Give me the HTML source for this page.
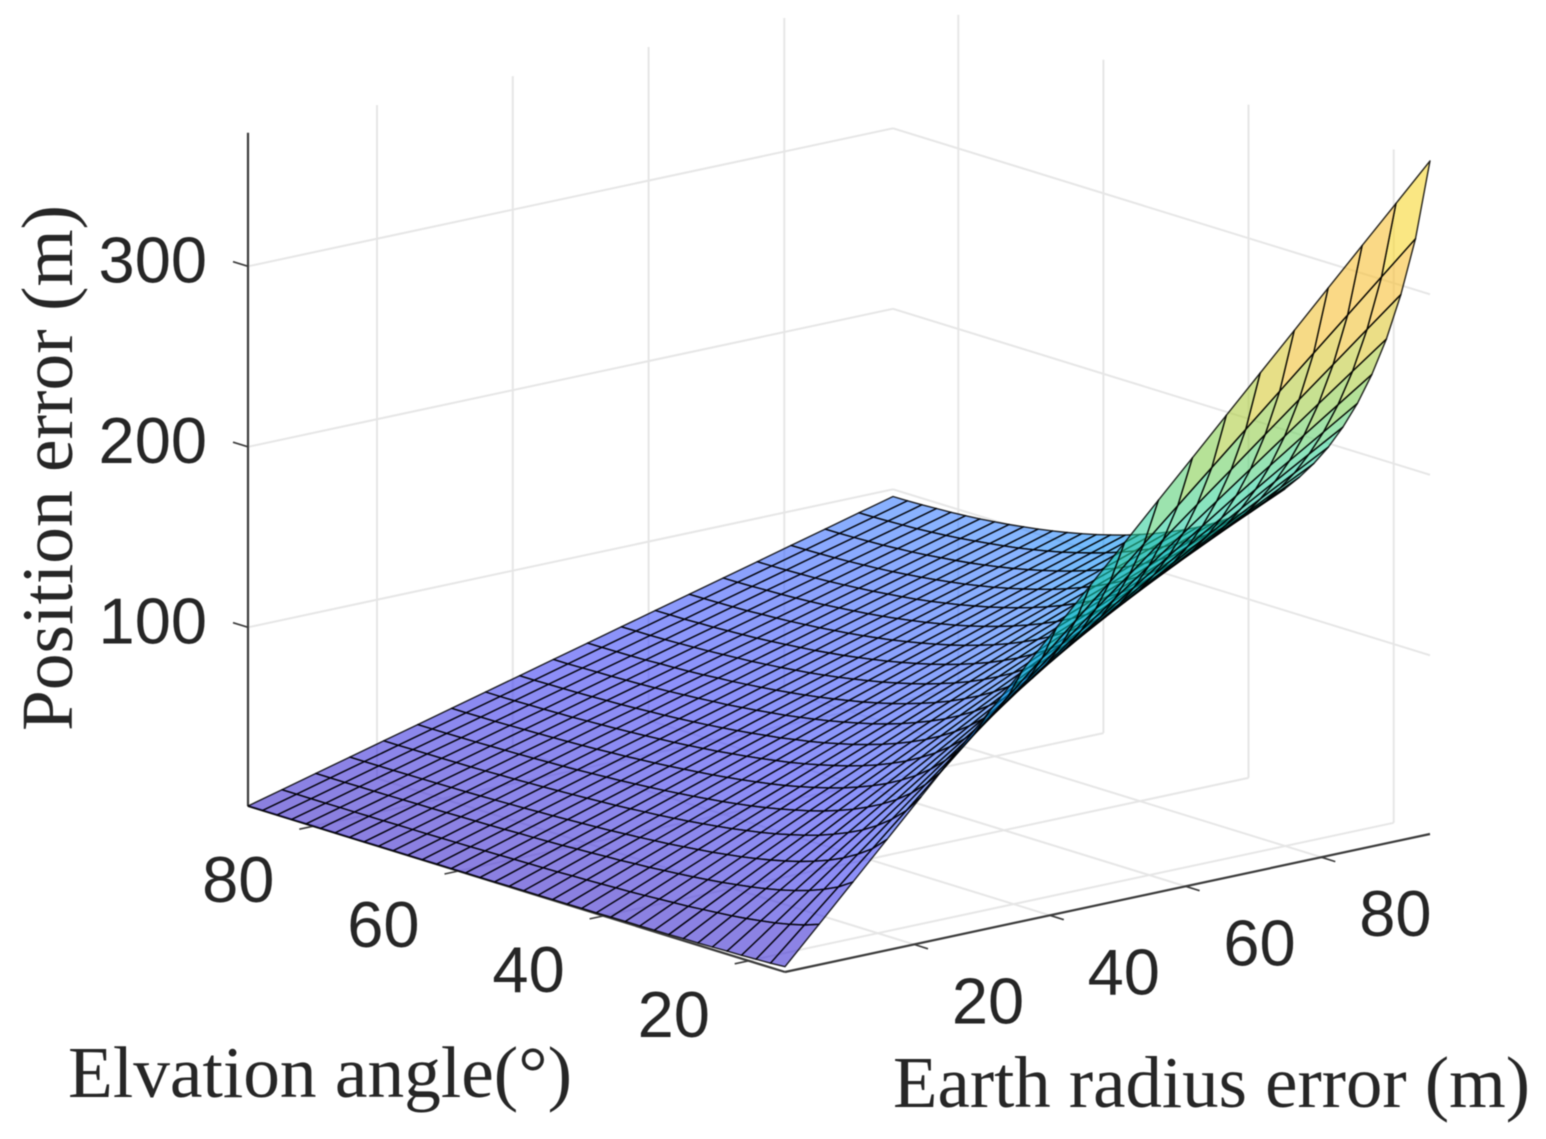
<!DOCTYPE html>
<html lang="en">
<head>
<meta charset="utf-8">
<title>Position error surface</title>
<style>
html,body{margin:0;padding:0;background:#fff;width:1546px;height:1139px;overflow:hidden}
svg{display:block;filter:blur(0.5px)}
.tick{font-family:"Liberation Sans",sans-serif;font-size:65px;fill:#262626}
.title{font-family:"Liberation Serif",serif;font-size:73px;fill:#262626}
</style>
</head>
<body>
<svg id="chart" xmlns="http://www.w3.org/2000/svg" width="1546" height="1139" viewBox="0 0 1546 1139">
<rect width="1546" height="1139" fill="#fff"/>
<g id="grid"></g>
<g id="axes"></g>
<g id="surface"></g>
<g id="labels"></g>
<text class="title" transform="translate(72,731) rotate(-90)" textLength="526" lengthAdjust="spacingAndGlyphs">Position error (m)</text>
<text class="title" x="68" y="1097" textLength="504" lengthAdjust="spacingAndGlyphs">Elvation angle(°)</text>
<text class="title" x="893" y="1107" textLength="637" lengthAdjust="spacingAndGlyphs">Earth radius error (m)</text>
</svg>
<script>
const radiusErrors = [1,6,11,16,21,26,31,36,41,46,51,56,61,66,71,76,81,86,91,96];
const elevations = [15,17,19,21,23,25,27,29,31,33,35,37,39,41,43,45,47,49,51,53,55,57,59,61,63,65,67,69,71,73,75,77,79,81,83,85,87,89];
const positionError = [
[3.9,23.4,42.8,62.3,81.8,101.3,120.7,140.2,159.7,179.2,198.6,218.1,237.6,257.1,276.5,296.0,315.5,335.0,354.4,373.9],
[3.4,20.5,37.6,54.7,71.8,88.9,106.0,123.1,140.2,157.3,174.4,191.5,208.6,225.7,242.8,259.9,277.0,294.1,311.2,328.3],
[3.1,18.4,33.8,49.2,64.5,79.9,95.2,110.6,125.9,141.3,156.7,172.0,187.4,202.8,218.1,233.5,248.8,264.2,279.6,294.9],
[2.8,16.7,30.7,44.6,58.6,72.5,86.5,100.4,114.4,128.3,142.3,156.2,170.2,184.1,198.1,212.0,226.0,239.9,253.9,267.8],
[2.6,15.4,28.1,40.9,53.7,66.5,79.3,92.1,104.9,117.7,130.5,143.3,156.1,168.9,181.7,194.5,207.3,220.1,232.9,245.7],
[2.4,14.2,26.0,37.9,49.7,61.5,73.3,85.2,97.0,108.8,120.7,132.5,144.3,156.2,168.0,179.8,191.6,203.5,215.3,227.1],
[2.2,13.2,24.2,35.2,46.3,57.3,68.3,79.3,90.3,101.3,112.4,123.4,134.4,145.4,156.4,167.4,178.5,189.5,200.5,211.5],
[2.1,12.4,22.7,33.0,43.3,53.6,63.9,74.3,84.6,94.9,105.2,115.5,125.8,136.2,146.5,156.8,167.1,177.4,187.7,198.0],
[1.9,11.7,21.4,31.1,40.8,50.5,60.2,69.9,79.6,89.3,99.0,108.8,118.5,128.2,137.9,147.6,157.3,167.0,176.7,186.4],
[1.8,11.0,20.2,29.4,38.6,47.7,56.9,66.1,75.3,84.5,93.6,102.8,112.0,121.2,130.4,139.5,148.7,157.9,167.1,176.3],
[1.7,10.5,19.2,27.9,36.6,45.3,54.0,62.7,71.5,80.2,88.9,97.6,106.3,115.0,123.8,132.5,141.2,149.9,158.6,167.3],
[1.7,10.0,18.3,26.6,34.9,43.2,51.5,59.8,68.1,76.5,84.8,93.1,101.4,109.7,118.0,126.3,134.6,142.9,151.2,159.6],
[1.6,9.5,17.5,25.4,33.4,41.3,49.3,57.2,65.1,73.1,81.0,89.0,96.9,104.9,112.8,120.8,128.7,136.6,144.6,152.5],
[1.5,9.1,16.8,24.4,32.0,39.6,47.2,54.9,62.5,70.1,77.7,85.3,93.0,100.6,108.2,115.8,123.4,131.1,138.7,146.3],
[1.5,8.8,16.1,23.5,30.8,38.1,45.4,52.8,60.1,67.4,74.8,82.1,89.4,96.8,104.1,111.4,118.7,126.1,133.4,140.7],
[1.4,8.5,15.6,22.6,29.7,36.8,43.8,50.9,58.0,65.0,72.1,79.2,86.3,93.3,100.4,107.5,114.5,121.6,128.7,135.7],
[1.4,8.2,15.0,21.9,28.7,35.5,42.4,49.2,56.0,62.9,69.7,76.5,83.4,90.2,97.1,103.9,110.7,117.6,124.4,131.2],
[1.3,8.0,14.6,21.2,27.8,34.5,41.1,47.7,54.3,61.0,67.6,74.2,80.8,87.5,94.1,100.7,107.3,114.0,120.6,127.2],
[1.3,7.7,14.2,20.6,27.0,33.5,39.9,46.3,52.8,59.2,65.6,72.1,78.5,84.9,91.4,97.8,104.2,110.7,117.1,123.6],
[1.3,7.5,13.8,20.0,26.3,32.6,38.8,45.1,51.3,57.6,63.9,70.1,76.4,82.6,88.9,95.2,101.4,107.7,113.9,120.2],
[1.2,7.3,13.4,19.5,25.6,31.7,37.9,44.0,50.1,56.2,62.3,68.4,74.5,80.6,86.7,92.8,98.9,105.0,111.1,117.2],
[1.2,7.2,13.1,19.1,25.0,31.0,37.0,42.9,48.9,54.8,60.8,66.8,72.7,78.7,84.6,90.6,96.6,102.5,108.5,114.4],
[1.2,7.0,12.8,18.7,24.5,30.3,36.2,42.0,47.8,53.7,59.5,65.3,71.2,77.0,82.9,88.7,94.5,100.4,106.2,112.0],
[1.1,6.9,12.6,18.3,24.0,29.7,35.4,41.1,46.9,52.6,58.3,64.0,69.7,75.4,81.2,86.9,92.6,98.3,104.0,109.7],
[1.1,6.7,12.3,18.0,23.6,29.2,34.8,40.4,46.0,51.6,57.2,62.8,68.4,74.1,79.7,85.3,90.9,96.5,102.1,107.7],
[1.1,6.6,12.1,17.6,23.2,28.7,34.2,39.7,45.2,50.7,56.3,61.8,67.3,72.8,78.3,83.8,89.3,94.9,100.4,105.9],
[1.1,6.5,11.9,17.4,22.8,28.2,33.7,39.1,44.5,50.0,55.4,60.8,66.2,71.7,77.1,82.5,88.0,93.4,98.8,104.3],
[1.1,6.4,11.8,17.1,22.5,27.8,33.2,38.6,43.9,49.3,54.6,60.0,65.3,70.7,76.0,81.4,86.8,92.1,97.5,102.8],
[1.1,6.3,11.6,16.9,22.2,27.5,32.8,38.1,43.4,48.7,54.0,59.2,64.5,69.8,75.1,80.4,85.7,91.0,96.3,101.6],
[1.0,6.3,11.5,16.7,22.0,27.2,32.4,37.7,42.9,48.1,53.3,58.6,63.8,69.0,74.3,79.5,84.7,90.0,95.2,100.4],
[1.0,6.2,11.4,16.6,21.7,26.9,32.1,37.3,42.4,47.6,52.8,58.0,63.1,68.3,73.5,78.7,83.8,89.0,94.2,99.4],
[1.0,6.2,11.3,16.4,21.5,26.7,31.8,36.9,42.1,47.2,52.3,57.5,62.6,67.7,72.8,78.0,83.1,88.2,93.4,98.5],
[1.0,6.1,11.2,16.3,21.4,26.5,31.6,36.7,41.8,46.9,52.0,57.1,62.2,67.3,72.3,77.4,82.5,87.6,92.7,97.8],
[1.0,6.1,11.1,16.2,21.3,26.3,31.4,36.4,41.5,46.6,51.6,56.7,61.7,66.8,71.9,76.9,82.0,87.0,92.1,97.2],
[1.0,6.0,11.1,16.1,21.2,26.2,31.2,36.3,41.3,46.4,51.4,56.4,61.5,66.5,71.6,76.6,81.6,86.7,91.7,96.8],
[1.0,6.0,11.0,16.1,21.1,26.1,31.1,36.1,41.2,46.2,51.2,56.2,61.2,66.3,71.3,76.3,81.3,86.3,91.4,96.4],
[1.0,6.0,11.0,16.0,21.0,26.0,31.0,36.0,41.0,46.0,51.1,56.1,61.1,66.1,71.1,76.1,81.1,86.1,91.1,96.1],
[1.0,6.0,11.0,16.0,21.0,26.0,31.0,36.0,41.0,46.0,51.0,56.0,61.0,66.0,71.0,76.0,81.0,86.0,91.0,96.0]
];
const radiusTicks = [20,40,60,80];
const elevationTicks = [80,60,40,20];
const errorTicks = [100,200,300];
const radiusTickLabels = ["20","40","60","80"];
const elevationTickLabels = ["80","60","40","20"];
const errorTickLabels = ["100","200","300"];

const NS = "http://www.w3.org/2000/svg";
const X_MIN = 1, X_MAX = 96, Y_MIN = 15, Y_MAX = 89, Z_MIN = 1, Z_MAX = 374;
const STOPS = [
[0,55,35,200],[0.125,58,62,245],[0.2,55,95,252],[0.26,50,128,255],[0.29,13,140,250],[0.345,0,158,215],
[0.4,0,190,190],[0.53,47,208,150],[0.62,130,205,75],[0.72,215,200,47],[0.78,247,188,47],[0.88,247,190,47],[0.93,245,225,40],[1,243,237,30]
];
function project(x, y, z) {
  return [
    248 + (x - X_MIN) * 6.789 + (Y_MAX - y) * 7.257,
    806 - (x - X_MIN) * 1.4526 + (Y_MAX - y) * 2.243 - (z - Z_MIN) * 1.805
  ];
}
function colorFor(z) {
  const t = Math.min(1, Math.max(0, (z - Z_MIN) / (Z_MAX - Z_MIN)));
  for (let i = 1; i < STOPS.length; i++) {
    if (t <= STOPS[i][0]) {
      const a = STOPS[i - 1], b = STOPS[i], f = (t - a[0]) / (b[0] - a[0]);
      return "rgb(" + [1, 2, 3].map(k => Math.round(a[k] + (b[k] - a[k]) * f)).join(",") + ")";
    }
  }
  return "rgb(243,237,30)";
}
function line(parent, p, q, stroke, width) {
  const el = document.createElementNS(NS, "line");
  el.setAttribute("x1", p[0].toFixed(1));
  el.setAttribute("y1", p[1].toFixed(1));
  el.setAttribute("x2", q[0].toFixed(1));
  el.setAttribute("y2", q[1].toFixed(1));
  el.setAttribute("stroke", stroke);
  el.setAttribute("stroke-width", width);
  parent.appendChild(el);
  return el;
}
function label(parent, str, x, y, anchor) {
  const el = document.createElementNS(NS, "text");
  el.setAttribute("class", "tick");
  el.setAttribute("x", x);
  el.setAttribute("y", y);
  el.setAttribute("text-anchor", anchor);
  el.textContent = str;
  parent.appendChild(el);
  return el;
}
const grid = document.getElementById("grid");
const axes = document.getElementById("axes");
const surface = document.getElementById("surface");
const labels = document.getElementById("labels");
const GRID = "#e6e6e6", AXIS = "#3c3c3c";

errorTicks.forEach(z => {
  const a = line(grid, project(X_MIN, Y_MAX, z), project(X_MAX, Y_MAX, z), GRID, 2);
  
  
  const b = line(grid, project(X_MAX, Y_MAX, z), project(X_MAX, Y_MIN, z), GRID, 2);
  
  
});
radiusTicks.forEach(x => {
  const a = line(grid, project(x, Y_MAX, Z_MIN), project(x, Y_MAX, Z_MAX), GRID, 2);
  
  
  const b = line(grid, project(x, Y_MAX, Z_MIN), project(x, Y_MIN, Z_MIN), GRID, 2);
  
  
});
elevationTicks.forEach(y => {
  const a = line(grid, project(X_MAX, y, Z_MIN), project(X_MAX, y, Z_MAX), GRID, 2);
  
  
  const b = line(grid, project(X_MAX, y, Z_MIN), project(X_MIN, y, Z_MIN), GRID, 2);
  
  
});
const zAxis = line(axes, project(X_MIN, Y_MAX, Z_MIN), project(X_MIN, Y_MAX, Z_MAX), AXIS, 2.2);


const xAxis = line(axes, project(X_MIN, Y_MIN, Z_MIN), project(X_MAX, Y_MIN, Z_MIN), AXIS, 2.2);


const yAxis = line(axes, project(X_MIN, Y_MAX, Z_MIN), project(X_MIN, Y_MIN, Z_MIN), AXIS, 2.2);


errorTicks.forEach(z => {
  const p = project(X_MIN, Y_MAX, z);
  const t = line(axes, p, [p[0] - 15, p[1] - 4.6], AXIS, 1.6);
  
  
});
radiusTicks.forEach(x => {
  const p = project(x, Y_MIN, Z_MIN);
  const t = line(axes, p, [p[0] + 14, p[1] + 4.4], AXIS, 1.6);
  
  
});
elevationTicks.forEach(y => {
  const p = project(X_MIN, y, Z_MIN);
  const t = line(axes, p, [p[0] - 14, p[1] + 3], AXIS, 1.6);
  
  
});

for (let j = elevations.length - 2; j >= 0; j--) {
  for (let i = radiusErrors.length - 2; i >= 0; i--) {
    const corners = [[i, j], [i + 1, j], [i + 1, j + 1], [i, j + 1]];
    let mean = 0;
    const pts = corners.map(c => {
      const z = positionError[c[1]][c[0]];
      mean += z / 4;
      return project(radiusErrors[c[0]], elevations[c[1]], z).map(v => v.toFixed(1)).join(",");
    });
    const cell = document.createElementNS(NS, "polygon");
    
    
    cell.setAttribute("points", pts.join(" "));
    cell.setAttribute("fill", colorFor(mean));
    cell.setAttribute("fill-opacity", "0.58");
    cell.setAttribute("stroke", "#000");
    cell.setAttribute("stroke-opacity", "0.85");
    cell.setAttribute("stroke-width", "1.4");
    cell.setAttribute("stroke-linejoin", "round");
    surface.appendChild(cell);
  }
}

errorTicks.forEach((z, k) => {
  const p = project(X_MIN, Y_MAX, z);
  const t = label(labels, errorTickLabels[k], p[0] - 41, p[1] + 16, "end");
  
  
});
radiusTicks.forEach((x, k) => {
  const p = project(x, Y_MIN, Z_MIN);
  const t = label(labels, radiusTickLabels[k], p[0] + 74, p[1] + 79, "middle");
  
  
});
elevationTicks.forEach((y, k) => {
  const p = project(X_MIN, y, Z_MIN);
  const t = label(labels, elevationTickLabels[k], p[0] - 75, p[1] + 76, "middle");
  
  
});
</script>
</body>
</html>
